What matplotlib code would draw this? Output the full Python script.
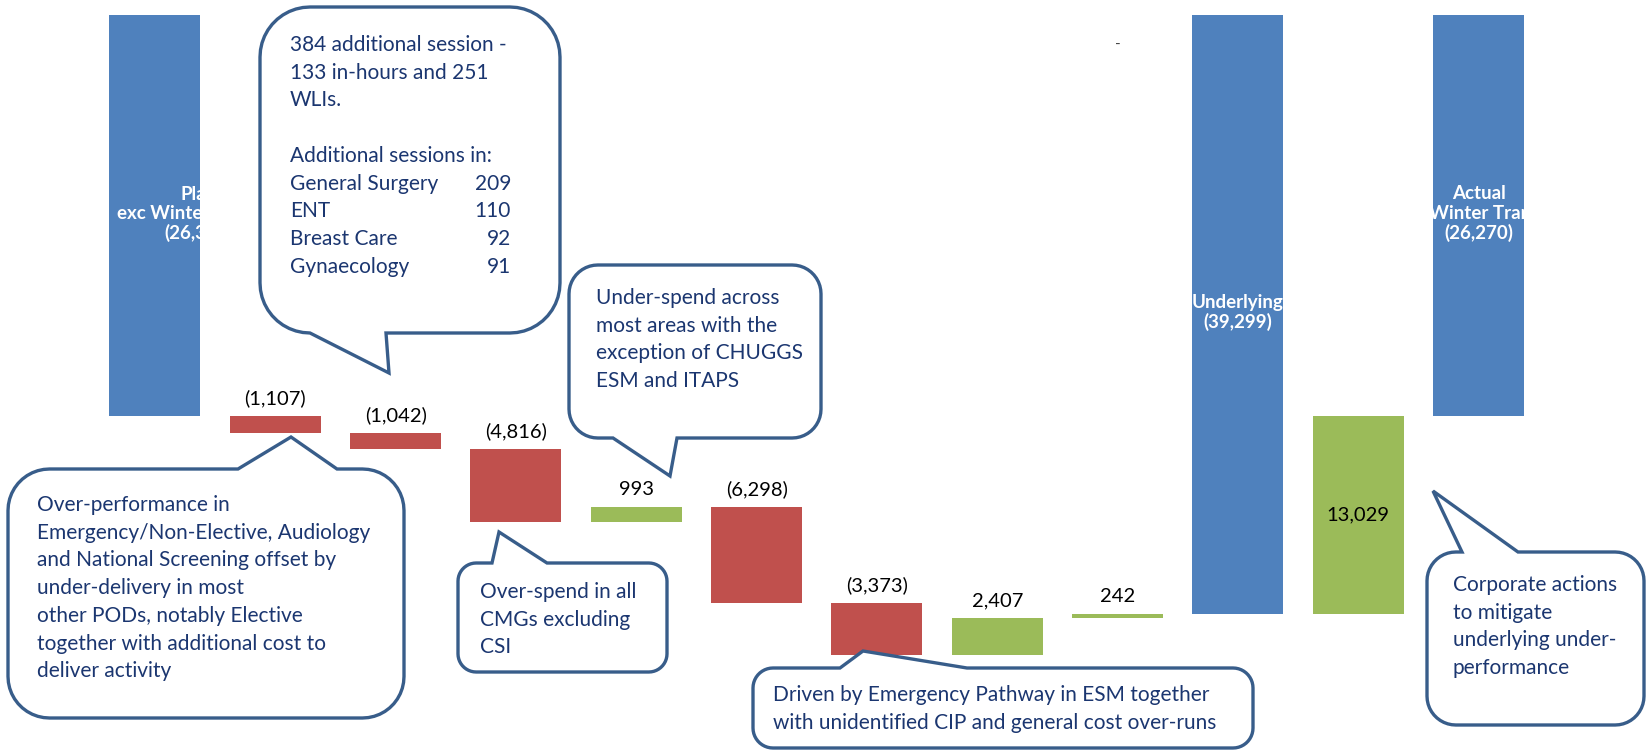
import matplotlib
matplotlib.use("Agg")
import matplotlib.pyplot as plt
import matplotlib.transforms as mtransforms
from matplotlib.patches import Polygon
import numpy as np

plt.rcParams["font.family"] = ["Lato", "DejaVu Sans"]

W, H = 1647, 752

# waterfall values (£000, deficit shown as negatives)
plan_value = -26305
step_values = [-1107, -1042, -4816, 993, -6298, -3373, 2407, 242]
underlying_value = -39299
mitigation_value = 13029
actual_value = -26270

plan_title = ["Plan", "exc Winter Tranche"]
underlying_title = ["Underlying"]
actual_title = ["Actual", "exc Winter Tranche"]

sessions_intro = ["384 additional session -", "133 in-hours and 251", "WLIs.", "",
                  "Additional sessions in:"]
session_specialties = ["General Surgery", "ENT", "Breast Care", "Gynaecology"]
session_counts = [209, 110, 92, 91]

note_income = ["Over-performance in", "Emergency/Non-Elective, Audiology",
               "and National Screening offset by", "under-delivery in most",
               "other PODs, notably Elective", "together with additional cost to",
               "deliver activity"]
note_pay = ["Over-spend in all", "CMGs excluding", "CSI"]
note_nonpay = ["Under-spend across", "most areas with the",
               "exception of CHUGGS", "ESM and ITAPS"]
note_esm = ["Driven by Emergency Pathway in ESM together",
            "with unidentified CIP and general cost over-runs"]
note_corporate = ["Corporate actions", "to mitigate", "underlying under-", "performance"]

BLUE = "#4F81BD"
RED = "#C0504D"
GREEN = "#9BBB59"
OUTLINE = "#385D8A"
NAVY = "#1B3670"

fig = plt.figure(figsize=(W / 100, H / 100), dpi=100)
ax = fig.add_axes([0, 0, 1, 1])
ax.set_xlim(-1.288, 12.40)
ax.set_ylim(-48330, 985)
ax.axis("off")

width = 0.756
px_to_pt = 72 / fig.dpi


def fmt(v):
    return f"({abs(v):,})" if v < 0 else f"{v:,}"


def total_bar(x, value, lines, dx_px=0):
    ax.bar(x, value, width, color=BLUE, zorder=2)
    box = mtransforms.Bbox.from_extents(x - width / 2, min(0, value), x + width / 2, max(0, value))
    clip = mtransforms.TransformedBbox(box, ax.transData)
    n = len(lines) + 1
    for k, s in enumerate(lines + [fmt(value)]):
        dy = ((n - 1) / 2 - k) * 19.5 + 2
        t = ax.annotate(s, (x, value / 2), xytext=(dx_px * px_to_pt, dy * px_to_pt),
                        textcoords="offset points", ha="center", va="center",
                        color="white", fontsize=13.5, fontweight="bold", zorder=3)
        t.set_clip_on(True)
        t.set_clip_box(clip)


total_bar(0, plan_value, plan_title, dx_px=44)

level = plan_value
for k, v in enumerate(step_values):
    x = k + 1
    ax.bar(x, v, width, bottom=level, color=RED if v < 0 else GREEN, zorder=2)
    top = max(level, level + v)
    ax.annotate(fmt(v), (x, top), xytext=(0, 12 * px_to_pt), textcoords="offset points",
                ha="center", va="baseline", fontsize=14.5, color="black", zorder=3)
    level += v

total_bar(9, underlying_value, underlying_title)

ax.bar(10, mitigation_value, width, bottom=underlying_value, color=GREEN, zorder=2)
ax.text(10, underlying_value + mitigation_value / 2, fmt(mitigation_value),
        ha="center", va="center", fontsize=14.5, color="black", zorder=3)

total_bar(11, actual_value, actual_title)

# stray zero label from the hidden series
ax.text(8, 1 - 45 / H, "-", transform=mtransforms.blended_transform_factory(ax.transData, ax.transAxes),
        ha="center", va="center", fontsize=11, color="#404040")

# callouts, laid out in pixel coordinates (origin top-left)
flip = mtransforms.Affine2D().scale(1 / W, -1 / H).translate(0, 1) + fig.transFigure


def bubble(x0, y0, x1, y1, side, b0, b1, tip, r=None):
    if r is None:
        r = min(x1 - x0, y1 - y0) / 6
    pts = []

    def arc(cx, cy, a0, a1):
        for a in np.radians(np.linspace(a0, a1, 12)):
            pts.append((cx + r * np.cos(a), cy + r * np.sin(a)))

    arc(x0 + r, y0 + r, 180, 270)
    if side == "top":
        pts.extend([(b0, y0), tip, (b1, y0)])
    arc(x1 - r, y0 + r, 270, 360)
    arc(x1 - r, y1 - r, 0, 90)
    if side == "bottom":
        pts.extend([(b1, y1), tip, (b0, y1)])
    arc(x0 + r, y1 - r, 90, 180)
    fig.add_artist(Polygon(pts, closed=True, transform=flip, facecolor="white",
                           edgecolor=OUTLINE, lw=2.4, joinstyle="miter", zorder=5))


def write(x, y, lines, step=27.7, ha="left"):
    for k, s in enumerate(lines):
        fig.text(x, y + k * step, s, transform=flip, ha=ha, va="center",
                 fontsize=15, color=NAVY, zorder=6)


bubble(260, 7, 560, 333, "bottom", 310, 386, (389, 373))
write(290, 45, sessions_intro + session_specialties)
write(511, 45 + 5 * 27.7, [str(c) for c in session_counts], ha="right")

bubble(8, 469, 404, 718, "top", 238, 337, (291, 437))
write(37, 505, note_income)

bubble(458, 563, 667, 672, "top", 492, 547, (499, 532))
write(480, 592, note_pay)

bubble(569, 265, 821, 438, "bottom", 613, 677, (670, 476))
write(596, 298, note_nonpay)

bubble(753, 668, 1253, 748, "top", 840, 967, (863, 651), r=20)
write(773, 695, note_esm)

bubble(1427, 552, 1644, 725, "top", 1462, 1518, (1433, 491))
write(1453, 585, note_corporate)

fig.savefig("out.png", dpi=100, facecolor="white")
